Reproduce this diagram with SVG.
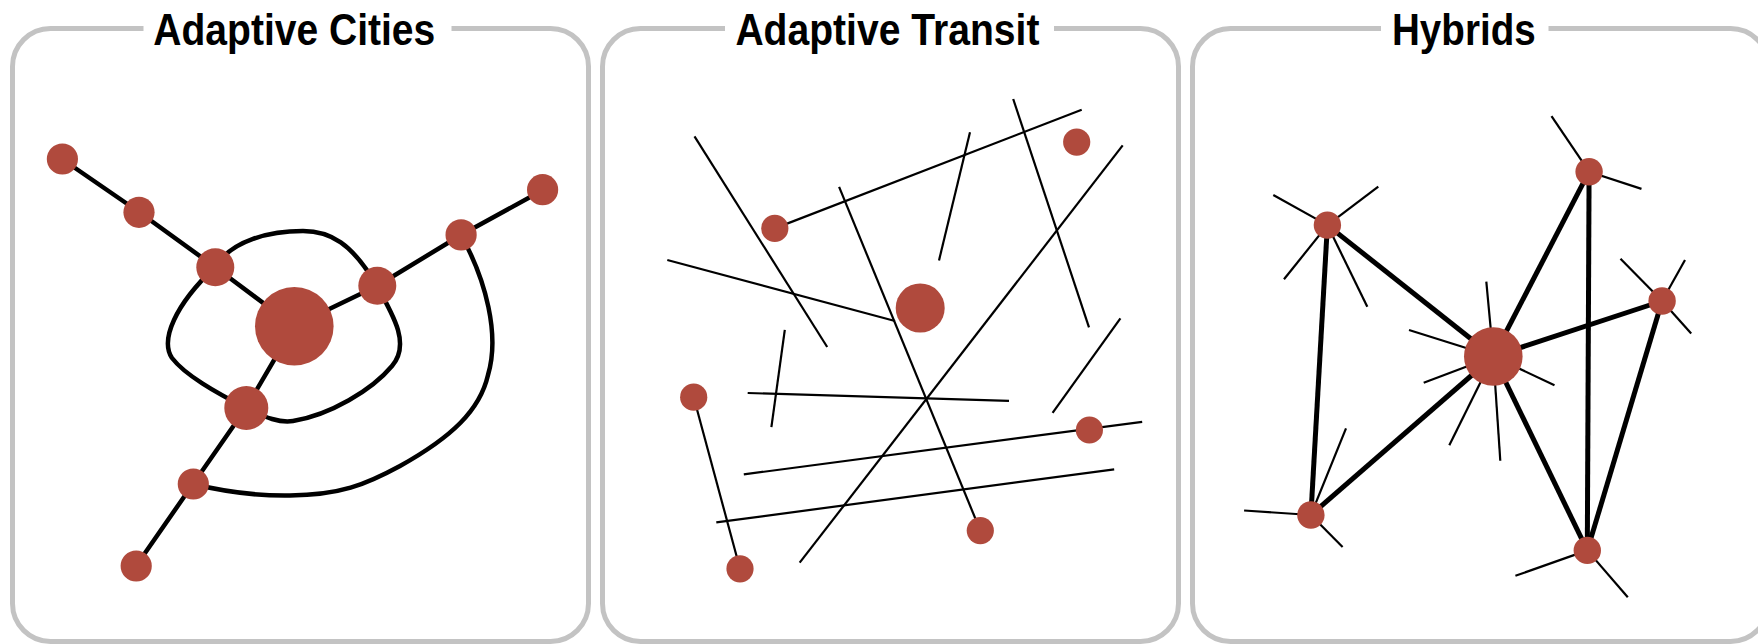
<svg xmlns="http://www.w3.org/2000/svg" width="1758" height="644" viewBox="0 0 1758 644">
<style>
.panel{fill:#fff;stroke:#c3c3c3;stroke-width:5}
.gap{fill:#fff;stroke:none}
.title{font-family:"Liberation Sans",Arial,sans-serif;font-weight:bold;font-size:45px;fill:#000}
.node{fill:#b04a3d}
.thick{stroke:#000;stroke-width:4.5;fill:none;stroke-linecap:butt;stroke-linejoin:round}
.thin{stroke:#000;stroke-width:2.2;fill:none}
.hthick{stroke:#000;stroke-width:5;fill:none}
</style>
<rect width="1758" height="644" fill="#fff"/>

<g id="panel-cities">
<rect class="panel" x="12.5" y="28.5" width="576" height="613" rx="38" ry="38"/>
<rect class="gap" x="143.5" y="18" width="308" height="22"/>
<text class="title" x="153.3" y="45" textLength="282" lengthAdjust="spacingAndGlyphs">Adaptive Cities</text>
</g>
<g id="panel-transit">
<rect class="panel" x="602.5" y="28.5" width="576" height="613" rx="38" ry="38"/>
<rect class="gap" x="725" y="18" width="329" height="22"/>
<text class="title" x="735.4" y="45" textLength="304" lengthAdjust="spacingAndGlyphs">Adaptive Transit</text>
</g>
<g id="panel-hybrids">
<rect class="panel" x="1192.5" y="28.5" width="576" height="613" rx="38" ry="38"/>
<rect class="gap" x="1381" y="18" width="167.5" height="22"/>
<text class="title" x="1392" y="45" textLength="143.7" lengthAdjust="spacingAndGlyphs">Hybrids</text>
</g>

<g id="connectors">
<!-- Adaptive Cities -->
<polyline class="thick" points="62,159 139,212 215,267 294,326"/>
<polyline class="thick" points="294,326 377,286 461,235 543,190"/>
<polyline class="thick" points="294,326 246,408 193,484 136,566"/>
<path class="thick" d="M215,267 C232,240 270,231 303,231 C330,231 352,243 377,286 C395,318 410,345 392,366 C372,390 330,415 293,421 C280,423 266,418 246,408 C215,392 185,375 172,358 C160,340 175,305 215,267 Z"/>
<path class="thick" d="M193,484 C230,493 260,496 290,495.5 C340,495 365,485 400,466 C452,437 480,410 488,375 C500,335 486,280 461,235"/>

<!-- Adaptive Transit -->
<line class="thin" x1="694.5" y1="136.4" x2="827.2" y2="347"/>
<line class="thin" x1="667.3" y1="260" x2="895" y2="321"/>
<line class="thin" x1="774.8" y1="228.4" x2="1081.7" y2="109.7"/>
<line class="thin" x1="970" y1="132.2" x2="939" y2="260.4"/>
<line class="thin" x1="1013.2" y1="99" x2="1089" y2="327.3"/>
<line class="thin" x1="1122.7" y1="145.4" x2="799.7" y2="562.7"/>
<line class="thin" x1="839.1" y1="186.9" x2="980.3" y2="530.6"/>
<line class="thin" x1="784.8" y1="329.8" x2="771.4" y2="427.1"/>
<line class="thin" x1="747.7" y1="393" x2="1009" y2="400.9"/>
<line class="thin" x1="1120.4" y1="318.3" x2="1052.6" y2="412.8"/>
<line class="thin" x1="743.8" y1="474.4" x2="1142.2" y2="421.8"/>
<line class="thin" x1="716.3" y1="522.4" x2="1114.2" y2="469.4"/>
<line class="thin" x1="693.7" y1="397.2" x2="740" y2="568.8"/>

<!-- Hybrids thin spokes -->
<line class="thin" x1="1327.4" y1="225.1" x2="1273.3" y2="195"/>
<line class="thin" x1="1327.4" y1="225.1" x2="1378.3" y2="186.7"/>
<line class="thin" x1="1327.4" y1="225.1" x2="1284" y2="279.3"/>
<line class="thin" x1="1327.4" y1="225.1" x2="1367.3" y2="306.7"/>
<line class="thin" x1="1589.1" y1="171.7" x2="1551.5" y2="116.2"/>
<line class="thin" x1="1589.1" y1="171.7" x2="1641.5" y2="188.9"/>
<line class="thin" x1="1662.1" y1="301" x2="1620.5" y2="258.7"/>
<line class="thin" x1="1662.1" y1="301" x2="1685" y2="260"/>
<line class="thin" x1="1662.1" y1="301" x2="1691.2" y2="333.5"/>
<line class="thin" x1="1493.3" y1="356.5" x2="1486.3" y2="281.7"/>
<line class="thin" x1="1493.3" y1="356.5" x2="1409" y2="330"/>
<line class="thin" x1="1493.3" y1="356.5" x2="1423.7" y2="382.7"/>
<line class="thin" x1="1493.3" y1="356.5" x2="1554.5" y2="385.2"/>
<line class="thin" x1="1493.3" y1="356.5" x2="1449.3" y2="445.3"/>
<line class="thin" x1="1493.3" y1="356.5" x2="1500.3" y2="460.7"/>
<line class="thin" x1="1310.9" y1="515" x2="1244.1" y2="510.5"/>
<line class="thin" x1="1310.9" y1="515" x2="1346" y2="428.3"/>
<line class="thin" x1="1310.9" y1="515" x2="1342.6" y2="547.1"/>
<line class="thin" x1="1587.3" y1="550.4" x2="1515.4" y2="575.8"/>
<line class="thin" x1="1587.3" y1="550.4" x2="1627.8" y2="597.2"/>
<!-- Hybrids thick edges -->
<line class="hthick" x1="1327.4" y1="225.1" x2="1493.3" y2="356.5"/>
<line class="hthick" x1="1327.4" y1="225.1" x2="1310.9" y2="515"/>
<line class="hthick" x1="1589.1" y1="171.7" x2="1493.3" y2="356.5"/>
<line class="hthick" x1="1589.1" y1="171.7" x2="1587.3" y2="550.4"/>
<line class="hthick" x1="1662.1" y1="301" x2="1493.3" y2="356.5"/>
<line class="hthick" x1="1662.1" y1="301" x2="1587.3" y2="550.4"/>
<line class="hthick" x1="1493.3" y1="356.5" x2="1310.9" y2="515"/>
<line class="hthick" x1="1493.3" y1="356.5" x2="1587.3" y2="550.4"/>
</g>

<g id="nodes-cities">
<circle id="c1" class="node" cx="62.4" cy="159" r="15.6"/>
<circle id="c2" class="node" cx="139" cy="212.3" r="15.6"/>
<circle id="c3" class="node" cx="215.3" cy="267.3" r="19"/>
<circle id="c4" class="node" cx="294.3" cy="326.3" r="39.3"/>
<circle id="c5" class="node" cx="377.3" cy="285.7" r="19"/>
<circle id="c6" class="node" cx="461.1" cy="234.9" r="15.6"/>
<circle id="c7" class="node" cx="542.6" cy="189.7" r="15.6"/>
<circle id="c8" class="node" cx="246.3" cy="408" r="22"/>
<circle id="c9" class="node" cx="193.3" cy="484" r="15.6"/>
<circle id="c10" class="node" cx="136.2" cy="566" r="15.6"/>
</g>
<g id="nodes-transit">
<circle id="t1" class="node" cx="774.8" cy="228.4" r="13.6"/>
<circle id="t2" class="node" cx="1076.7" cy="142.1" r="13.6"/>
<circle id="t3" class="node" cx="920.2" cy="308" r="24.5"/>
<circle id="t4" class="node" cx="693.7" cy="397.2" r="13.6"/>
<circle id="t5" class="node" cx="1089.4" cy="430" r="13.6"/>
<circle id="t6" class="node" cx="980.3" cy="530.6" r="13.6"/>
<circle id="t7" class="node" cx="740" cy="568.8" r="13.6"/>
</g>
<g id="nodes-hybrids">
<circle id="h1" class="node" cx="1327.4" cy="225.1" r="13.7"/>
<circle id="h2" class="node" cx="1589.1" cy="171.7" r="13.7"/>
<circle id="h3" class="node" cx="1662.1" cy="301" r="13.7"/>
<circle id="h4" class="node" cx="1493.3" cy="356.5" r="29.3"/>
<circle id="h5" class="node" cx="1310.9" cy="515" r="13.7"/>
<circle id="h6" class="node" cx="1587.3" cy="550.4" r="13.7"/>
</g>
</svg>
